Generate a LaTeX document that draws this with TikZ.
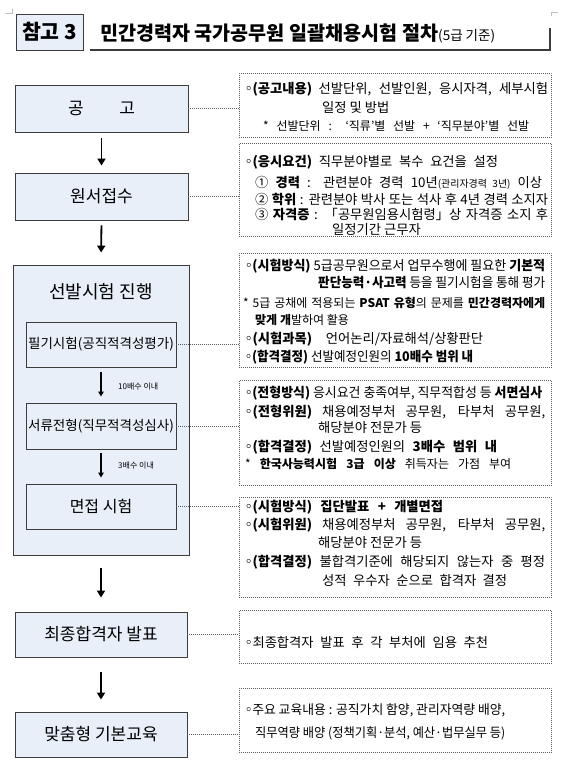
\documentclass[tikz,border=0pt]{standalone}
\usepackage{fontspec}
\usepackage{graphicx}
\setmainfont{Noto Sans CJK KR}
\usetikzlibrary{arrows.meta}
\definecolor{boxblue}{RGB}{232,239,249}
\definecolor{edgegray}{RGB}{60,60,60}
\definecolor{dotgray}{RGB}{90,90,90}
\newlength{\jlen}
\newcommand{\jl}[2]{\settowidth{\jlen}{#2}\ifdim\jlen>#1\relax\resizebox{#1}{\height}{#2}\else\makebox[#1][s]{#2}\fi}
\newcommand{\bul}{\makebox[0.55em][c]{◦}}
\newcommand{\B}[1]{\textbf{#1}}
\tikzset{
  lbox/.style={draw=edgegray, line width=0.9pt, fill=boxblue, minimum width=173pt, minimum height=47pt, inner sep=0pt, font=\fontsize{17}{19}\selectfont},
  ibox/.style={lbox, minimum width=150pt, minimum height=45pt, font=\fontsize{13.5}{15}\selectfont},
  rbox/.style={draw=dotgray, line width=0.7pt, dash pattern=on 0.8pt off 1.2pt, minimum width=312pt, inner sep=0pt, anchor=north west},
  rtxt/.style={anchor=west, inner sep=0pt, font=\fontsize{13.3}{15}\selectfont},
  stxt/.style={anchor=west, inner sep=0pt, font=\fontsize{12}{14}\selectfont},
  ptxt/.style={anchor=west, inner sep=0pt, font=\fontsize{13}{15}\selectfont},
  conn/.style={draw=dotgray, line width=0.7pt, dash pattern=on 0.8pt off 1.2pt},
  bigarrow/.style={-{Triangle[length=7pt,width=8pt]}, line width=1.8pt},
  smallarrow/.style={-{Triangle[length=5pt,width=5.5pt]}, line width=1.1pt},
  albl/.style={anchor=west, inner sep=0pt, font=\fontsize{8}{9}\selectfont}
}
\begin{document}
\begin{tikzpicture}[x=1pt,y=-1pt]
\useasboundingbox (0,0) rectangle (563,777);
% corner marks
\draw[gray!50, line width=0.5pt] (5,13) -- (12,13) -- (12,9);
\draw[gray!50, line width=0.5pt] (551,16) -- (551,12) -- (558,12);
% title
\node[draw=edgegray, line width=1pt, fill=boxblue, minimum width=67pt, minimum height=36pt, inner sep=0pt, font=\bfseries\fontsize{20.5}{22}\selectfont] (ref) at (49.5,32) {참고 3};
\node[anchor=west, inner sep=0pt] (title) at (100,33) {{\bfseries\fontsize{19.6}{22}\selectfont 민간경력자 국가공무원 일괄채용시험 절차}{\fontsize{13.5}{15}\selectfont (5급 기준)}};
\draw[edgegray, line width=1.2pt] (90,50) -- (550,50) -- (550,28);

% left column
\node[lbox] (gong) at (101.5,108.5) {공\hspace{2.1em}고};
\node[lbox] (won) at (101.5,196.5) {원서접수};
\node[lbox, minimum width=176pt, minimum height=290pt] (sel) at (101,410) {};
\node[anchor=center, inner sep=0pt, font=\fontsize{18}{20}\selectfont] (seltitle) at (101,292) {선발시험 진행};
\node[ibox] (pil) at (101,344.5) {필기시험(공직적격성평가)};
\node[ibox, minimum height=46pt] (seo) at (101,426) {서류전형(직무적격성심사)};
\node[ibox, font=\fontsize{16}{18}\selectfont] (myeon) at (101,506.5) {면접 시험};
\node[lbox, minimum width=172pt, minimum height=45pt] (final) at (101,634.5) {최종합격자 발표};
\node[lbox, minimum width=172pt, minimum height=45pt] (edu) at (101,734.5) {맞춤형 기본교육};

% arrows
\draw[bigarrow, shorten <=6pt, shorten >=7pt] (gong.south) -- (won.north);
\draw[bigarrow, shorten <=5pt, shorten >=12pt] (won.south) -- (sel.north);
\draw[smallarrow, shorten <=5pt, shorten >=6pt] (pil.south) -- (seo.north);
\draw[smallarrow, shorten <=4pt, shorten >=6pt] (seo.south) -- (myeon.north);
\draw[bigarrow, shorten <=13pt, shorten >=14pt] (sel.south) -- (final.north);
\draw[bigarrow, shorten <=15pt, shorten >=12pt] (final.south) -- (edu.north);
\node[albl] (lbl10) at (118,387) {10배수 이내};
\node[albl] (lbl3) at (118,466) {3배수 이내};

% right boxes
\node[rbox, minimum height=64pt] (r1) at (239,73) {};
\node[rbox, minimum height=93pt] (r2) at (239,143) {};
\node[rbox, minimum height=114pt] (r3) at (239,253) {};
\node[rbox, minimum height=105pt] (r4) at (239,380) {};
\node[rbox, minimum height=100pt] (r5) at (239,497) {};
\node[rbox, minimum height=53pt] (r6) at (239,610) {};
\node[rbox, minimum height=64pt] (r7) at (239,688) {};

% connectors
\draw[conn] (gong.east) -- (gong.east -| r1.west);
\draw[conn] (won.east) -- (won.east -| r2.west);
\draw[conn] (pil.east) -- (pil.east -| r3.west);
\draw[conn] (seo.east) -- (seo.east -| r4.west);
\draw[conn] (myeon.east) -- (myeon.east -| r5.west);
\draw[conn] (final.east) -- (final.east -| r6.west);
\draw[conn] (edu.east) -- (edu.east -| r7.west);

% box 1 text
\node[rtxt] (t1a) at (245,89) {\jl{303pt}{\bul\B{(공고내용)} 선발단위, 선발인원, 응시자격, 세부시험}};
\node[rtxt] (t1b) at (322,108) {일정 및 방법};
\node[stxt] (t1c) at (263,126) {\jl{266pt}{* 선발단위 : ‘직류’별 선발 + ‘직무분야’별 선발}};
% box 2 text
\node[rtxt] (t2a) at (245,162) {\jl{253pt}{\bul\B{(응시요건)} 직무분야별로 복수 요건을 설정}};
\node[rtxt] (t2b) at (255,183) {\jl{287pt}{① \B{경력} : 관련분야 경력 10년{\fontsize{10}{11}\selectfont(관리자경력 3년)} 이상}};
\node[rtxt] (t2c) at (255,199) {\jl{293pt}{② \B{학위} : 관련분야 박사 또는 석사 후 4년 경력 소지자}};
\node[rtxt] (t2d) at (255,215) {\jl{293pt}{③ \B{자격증} : 「공무원임용시험령」상 자격증 소지 후}};
\node[rtxt] (t2e) at (332,230) {일정기간 근무자};
% box 3 text
\node[rtxt] (t3a) at (245,266) {\jl{300pt}{\bul\B{(시험방식)} 5급공무원으로서 업무수행에 필요한 \B{기본적}}};
\node[rtxt] (t3b) at (318,283) {\jl{227pt}{\B{판단능력·사고력} 등을 필기시험을 통해 평가}};
\node[stxt] (t3c) at (243,303) {\jl{302pt}{* 5급 공채에 적용되는 \B{PSAT 유형}의 문제를 \B{민간경력자에게}}};
\node[stxt] (t3d) at (255,320) {\B{맞게 개}발하여 활용};
\node[rtxt] (t3e) at (245,339) {\jl{238pt}{\bul\B{(시험과목)} 언어논리/자료해석/상황판단}};
\node[rtxt] (t3f) at (245,357) {\jl{228pt}{\bul\B{(합격결정)} 선발예정인원의 \B{10배수 범위 내}}};
% box 4 text
\node[rtxt] (t4a) at (245,393) {\jl{297pt}{\bul\B{(전형방식)} 응시요건 충족여부, 직무적합성 등 \B{서면심사}}};
\node[rtxt] (t4b) at (245,412) {\jl{300pt}{\bul\B{(전형위원)} 채용예정부처 공무원, 타부처 공무원,}};
\node[rtxt] (t4c) at (318,428) {해당분야 전문가 등};
\node[rtxt] (t4d) at (245,447) {\jl{252pt}{\bul\B{(합격결정)} 선발예정인원의 \B{3배수 범위 내}}};
\node[stxt] (t4e) at (245,464) {\jl{266pt}{* \B{한국사능력시험 3급 이상} 취득자는 가점 부여}};
% box 5 text
\node[rtxt] (t5a) at (245,507) {\jl{198pt}{\bul\B{(시험방식) 집단발표 + 개별면접}}};
\node[rtxt] (t5b) at (245,525) {\jl{300pt}{\bul\B{(시험위원)} 채용예정부처 공무원, 타부처 공무원,}};
\node[rtxt] (t5c) at (318,543) {해당분야 전문가 등};
\node[rtxt] (t5d) at (245,562) {\jl{300pt}{\bul\B{(합격결정)} 불합격기준에 해당되지 않는자 중 평정}};
\node[rtxt] (t5e) at (322,580) {\jl{185pt}{성적 우수자 순으로 합격자 결정}};
% box 6 text
\node[rtxt] (t6a) at (245,642) {\jl{243pt}{\bul 최종합격자 발표 후 각 부처에 임용 추천}};
% box 7 text
\node[ptxt] (t7a) at (245,710) {\jl{260pt}{\bul 주요 교육내용 : 공직가치 함양, 관리자역량 배양,}};
\node[ptxt] (t7b) at (255,733) {\jl{250pt}{직무역량 배양 (정책기획·분석, 예산·법무실무 등)}};
\end{tikzpicture}
\end{document}
